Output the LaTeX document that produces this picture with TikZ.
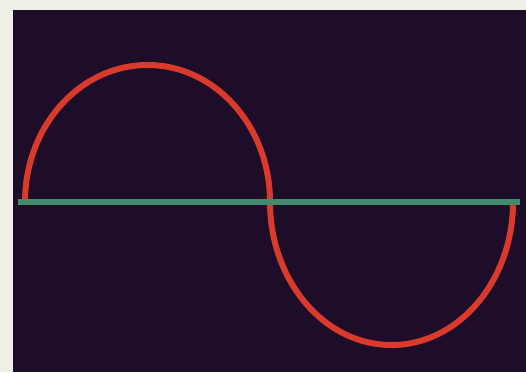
\documentclass[tikz,border=0pt]{standalone}
\usepackage{xcolor}
\usepackage{tikz}

\definecolor{paper}{HTML}{EEF0E6}
\definecolor{screen}{HTML}{1E0D29}
\definecolor{wave}{HTML}{DA3A2C}
\definecolor{axis}{HTML}{3F8B6C}

\begin{document}
\begin{tikzpicture}[
    x=0.02cm, y=0.02cm,
    curve/.style={wave, line width=3.4pt},
    baseline/.style={axis, line width=3.4pt},
]
% Page and screen
\fill[paper] (0,0) rectangle (526,372);
\useasboundingbox (0,0) rectangle (526,372);
\fill[screen] (13,0) rectangle (526,362);

% Zero line
\coordinate (z0) at (18,170);
\coordinate (z1) at (520,170);

% Red wave: upper half, then lower half
\coordinate (w0) at (25,170);
\draw[curve] (w0) arc[start angle=180, end angle=0, x radius=122.5, y radius=137] coordinate (w1)
             arc[start angle=180, end angle=360, x radius=121.5, y radius=143] coordinate (w2);

\draw[baseline] (z0) -- (z1);

\end{tikzpicture}
\end{document}
